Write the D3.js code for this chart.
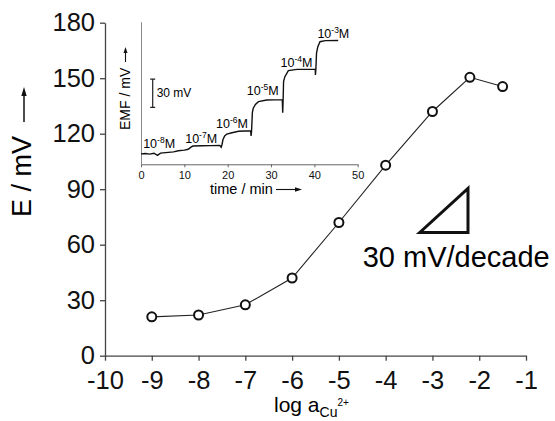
<!DOCTYPE html>
<html>
<head>
<meta charset="utf-8">
<script src="https://cdn.jsdelivr.net/npm/d3@7"></script>
<style>
  body { margin: 0; background: #fff; }
  svg { font-family: "Liberation Sans", Arial, sans-serif; }
  .axis path, .axis line { stroke: #444; stroke-width: 1.3; }
  .axis text { fill: #111; }
</style>
</head>
<body>
<svg width="555" height="421"></svg>
<script>
// main calibration curve
var logAct = [-9, -8, -7, -6, -5, -4, -3, -2.2, -1.5];
var potential = [21, 22, 27.5, 42, 72, 103, 132, 150.5, 145.5];
var xTicks = [-10, -9, -8, -7, -6, -5, -4, -3, -2, -1];
var yTicks = [0, 30, 60, 90, 120, 150, 180];

// inset: time trace (min, mV)
var traceTime = [0, 1, 2, 3, 3.8, 4.5, 6.3, 7.5, 8.6, 10, 10.9, 11.6, 12, 14, 16, 18.2,
  18.5, 18.7, 18.9, 19.3, 19.8, 21, 22.5, 25.3, 25.4, 25.5, 25.7, 25.9, 26.4, 27.1, 29,
  32.6, 32.7, 32.8, 32.9, 33.2, 34, 36, 40.2, 40.25, 40.35, 40.5, 40.8, 41.3, 42.5, 45.5];
var traceEmf = [11, 11.5, 10.8, 11.7, 9.5, 11.8, 12.7, 13.2, 14.4, 15, 15.9, 18.5, 19.4, 19.7, 19.8, 19.9,
  18, 21, 26, 30, 32.1, 33.5, 35, 35.6, 30, 34.6, 55, 59.4, 63.5, 66.4, 68.2,
  68.6, 54.7, 70, 88, 92.9, 99.3, 100.7, 100.9, 94.7, 101, 118, 124.7, 130, 131.1, 131.2];
var timeTicks = [0, 10, 20, 30, 40, 50];
var concExp = ["-8", "-7", "-6", "-5", "-4", "-3"];
var labelTime = [0.5, 10.2, 17.3, 24.4, 32.2, 40.7];
var labelEmf = [17, 22.3, 38.2, 73.5, 103.5, 133.6];

var svg = d3.select("svg");

var x = d3.scaleLinear().domain([-10, -1]).range([105, 526]);
var y = d3.scaleLinear().domain([0, 180]).range([355.7, 22.7]);

svg.append("g")
    .attr("class", "axis")
    .attr("transform", "translate(0," + y(0) + ")")
    .call(d3.axisBottom(x).tickValues(xTicks).tickSize(5).tickSizeOuter(0).tickPadding(10)
        .tickFormat(function(d) { return String(d); }))
    .selectAll("text").style("font-size", "25.5px");

svg.append("g")
    .attr("class", "axis")
    .attr("transform", "translate(" + x(-10) + ",0)")
    .call(d3.axisLeft(y).tickValues(yTicks).tickSize(5).tickSizeOuter(0).tickPadding(5))
    .selectAll("text").style("font-size", "25.5px");

// y title with arrow
svg.append("text")
    .attr("transform", "translate(31,217) rotate(-90)")
    .style("font-size", "27px")
    .text("E / mV");
svg.append("line")
    .attr("x1", 24).attr("x2", 24)
    .attr("y1", 122).attr("y2", 94)
    .style("stroke", "#111").style("stroke-width", 1.5);
svg.append("path")
    .attr("d", "M24,87 L21.3,96 L26.7,96 Z")
    .style("fill", "#111");

// x title
var xt = svg.append("text")
    .attr("x", 274).attr("y", 412)
    .style("font-size", "21px");
xt.append("tspan").text("log a");
xt.append("tspan").attr("dy", 5).style("font-size", "14px").text("Cu");
xt.append("tspan").attr("dy", -11).style("font-size", "10px").text("2+");

// curve
var line = d3.line()
    .x(function(d, i) { return x(logAct[i]); })
    .y(function(d) { return y(d); });

svg.append("path")
    .datum(potential)
    .attr("d", line)
    .style("fill", "none")
    .style("stroke", "#222")
    .style("stroke-width", 1.1);

svg.selectAll(".pt")
    .data(potential)
    .enter().append("circle")
    .attr("class", "pt")
    .attr("cx", function(d, i) { return x(logAct[i]); })
    .attr("cy", function(d) { return y(d); })
    .attr("r", 4.5)
    .style("fill", "#fff")
    .style("stroke", "#111")
    .style("stroke-width", 2);

// slope triangle
svg.append("path")
    .attr("d", "M" + x(-3.27) + "," + y(66.6) + "L" + x(-2.24) + "," + y(66.6) + "L" + x(-2.24) + "," + y(90.4) + "Z")
    .style("fill", "none")
    .style("stroke", "#111")
    .style("stroke-width", 3);
svg.append("text")
    .attr("x", 362.7).attr("y", 266.7)
    .style("font-size", "29px")
    .text("30 mV/decade");

// ---- inset ----
var tx = d3.scaleLinear().domain([0, 50]).range([141, 357.7]);
var ey = d3.scaleLinear().domain([0, 151.2]).range([164.3, 21.7]);

var inset = svg.append("g");

inset.append("g")
    .attr("class", "axis")
    .attr("transform", "translate(0," + ey(0) + ")")
    .call(d3.axisBottom(tx).tickValues(timeTicks).tickSize(3).tickSizeOuter(0).tickPadding(4))
    .call(function(g) { g.selectAll("path, line").style("stroke", "#666").style("stroke-width", 1); })
    .selectAll("text").style("font-size", "11px");

inset.append("g")
    .attr("class", "axis")
    .attr("transform", "translate(" + tx(0) + ",0)")
    .call(d3.axisLeft(ey).tickValues([]).tickSizeOuter(0))
    .call(function(g) { g.selectAll("path").style("stroke", "#888").style("stroke-width", 1); });

var trace = d3.line()
    .x(function(d, i) { return tx(traceTime[i]); })
    .y(function(d) { return ey(d); });

inset.append("path")
    .datum(traceEmf)
    .attr("d", trace)
    .style("fill", "none")
    .style("stroke", "#111")
    .style("stroke-width", 1.4);

inset.selectAll(".conc")
    .data(concExp)
    .enter().append("text")
    .attr("class", "conc")
    .attr("x", function(d, i) { return tx(labelTime[i]); })
    .attr("y", function(d, i) { return ey(labelEmf[i]); })
    .style("font-size", "12.5px")
    .each(function(d) {
        var t = d3.select(this);
        t.append("tspan").text("10");
        t.append("tspan").attr("dy", -5).style("font-size", "8.5px").text(d);
        t.append("tspan").attr("dy", 5).text("M");
    });

// 30 mV scale bar
var barT = 2.7;
inset.append("path")
    .attr("d", "M" + (tx(barT) - 2.5) + "," + ey(60.4) + "H" + (tx(barT) + 2.5) +
        "M" + tx(barT) + "," + ey(60.4) + "V" + ey(90.4) +
        "M" + (tx(barT) - 2.5) + "," + ey(90.4) + "H" + (tx(barT) + 2.5))
    .style("stroke", "#222")
    .style("stroke-width", 1.2)
    .style("fill", "none");
inset.append("text")
    .attr("x", tx(barT) + 4).attr("y", 97.3)
    .style("font-size", "12px")
    .text("30 mV");

// inset titles
inset.append("text")
    .attr("transform", "translate(130,130) rotate(-90)")
    .style("font-size", "14px")
    .text("EMF / mV");
inset.append("line")
    .attr("x1", 125.5).attr("x2", 125.5)
    .attr("y1", 62).attr("y2", 52)
    .style("stroke", "#111").style("stroke-width", 1.1);
inset.append("path")
    .attr("d", "M125.5,47 L123.5,53 L127.5,53 Z")
    .style("fill", "#111");

inset.append("text")
    .attr("x", 210).attr("y", 194)
    .style("font-size", "14.5px")
    .text("time / min");
inset.append("line")
    .attr("x1", 276).attr("x2", 296)
    .attr("y1", 189.5).attr("y2", 189.5)
    .style("stroke", "#111").style("stroke-width", 1.1);
inset.append("path")
    .attr("d", "M302,189.5 L295,187.3 L295,191.7 Z")
    .style("fill", "#111");
</script>
</body>
</html>
